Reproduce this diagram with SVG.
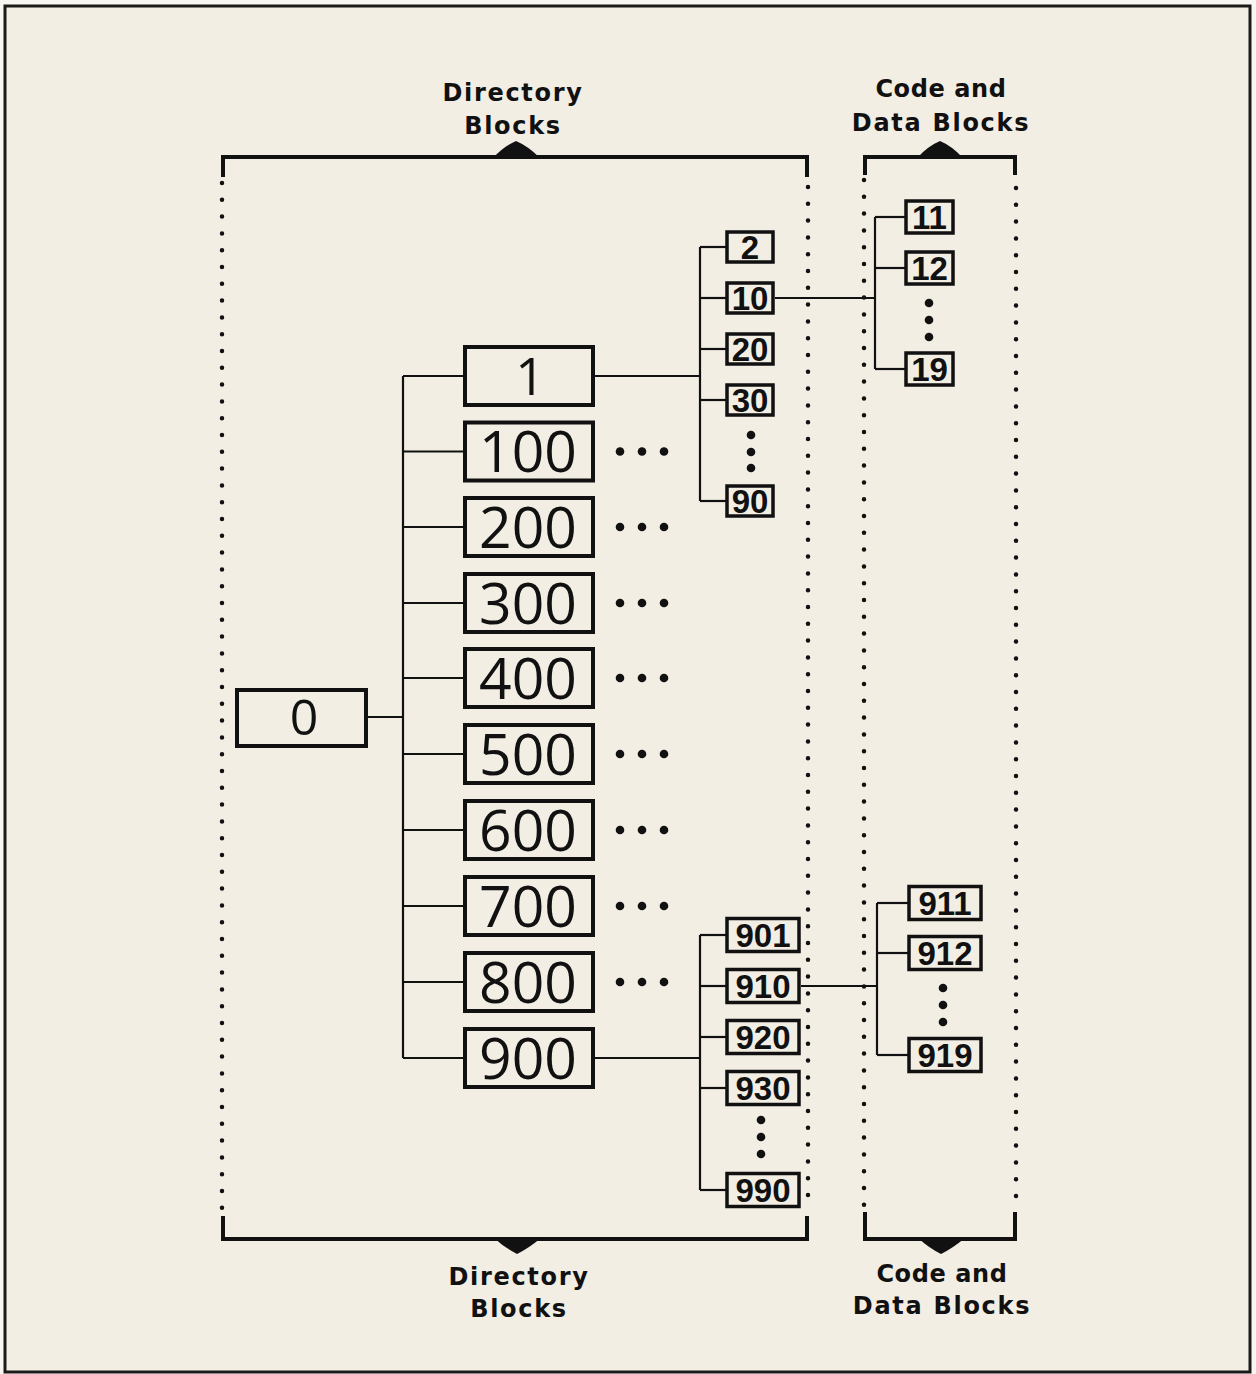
<svg xmlns="http://www.w3.org/2000/svg" width="1256" height="1374" viewBox="0 0 1256 1374">
<style>
.bg{fill:#f3eee4}
.frame{fill:none;stroke:#1a1a1a;stroke-width:3}
.big{fill:none;stroke:#111;stroke-width:4}
.sm{fill:none;stroke:#111;stroke-width:3.5}
.tb{font-family:"Open Sans","Liberation Sans",sans-serif;font-weight:normal;fill:#111;text-anchor:middle}
.ts{font-family:"Liberation Sans",Arial,sans-serif;font-weight:bold;font-size:33px;fill:#111;text-anchor:middle}
.lbl{font-family:"DejaVu Sans","Liberation Sans",sans-serif;font-weight:bold;font-size:24px;fill:#111;text-anchor:middle;letter-spacing:1.7px}
.ln{fill:none;stroke:#111;stroke-width:2.2}
.br{fill:none;stroke:#111;stroke-width:4}
.dotl{fill:none;stroke:#111;stroke-width:4.5;stroke-linecap:round;stroke-dasharray:0 16.8}
.dot{fill:#111}
</style>
<rect width="1256" height="1374" fill="#f8f6f2"/>
<rect class="bg" x="5" y="6" width="1245" height="1366"/>
<rect class="frame" x="5" y="6" width="1245" height="1366"/>

<g id="brackets">
  <path class="br" d="M223 177 V157 H807 V177"/>
  <path d="M493 158 Q504 146 516 141 Q528 146 540 158 Z" fill="#111"/>
  <path class="br" d="M865 175 V157 H1015 V175"/>
  <path d="M917 158 Q928 146 940 141 Q952 146 963 158 Z" fill="#111"/>
  <path class="br" d="M223 1216 V1239 H807 V1216"/>
  <path d="M494 1238 Q505 1248 517 1254 Q529 1248 541 1238 Z" fill="#111"/>
  <path class="br" d="M865 1212 V1239 H1015 V1212"/>
  <path d="M918 1238 Q929 1248 941 1254 Q953 1248 965 1238 Z" fill="#111"/>
  <line class="dotl" x1="222" y1="183" x2="222" y2="1213"/>
  <line class="dotl" x1="808" y1="187" x2="808" y2="1210"/>
  <line class="dotl" x1="864" y1="180" x2="864" y2="1212"/>
  <line class="dotl" x1="1016" y1="188" x2="1016" y2="1210"/>
</g>

<g id="labels">
  <text class="lbl" x="513" y="101">Directory</text>
  <text class="lbl" x="513" y="134">Blocks</text>
  <text class="lbl" x="941" y="97" style="letter-spacing:0.6px">Code and</text>
  <text class="lbl" x="941" y="131">Data Blocks</text>
  <text class="lbl" x="519" y="1285">Directory</text>
  <text class="lbl" x="519" y="1317">Blocks</text>
  <text class="lbl" x="942" y="1282" style="letter-spacing:0.6px">Code and</text>
  <text class="lbl" x="942" y="1314">Data Blocks</text>
</g>

<g id="connectors">
  <line class="ln" x1="368" y1="717" x2="403" y2="717"/>
  <line class="ln" x1="403" y1="376" x2="403" y2="1058"/>
  <line class="ln" x1="403" y1="376" x2="465" y2="376"/>
  <line class="ln" x1="403" y1="451.5" x2="465" y2="451.5"/>
  <line class="ln" x1="403" y1="527" x2="465" y2="527"/>
  <line class="ln" x1="403" y1="603" x2="465" y2="603"/>
  <line class="ln" x1="403" y1="678" x2="465" y2="678"/>
  <line class="ln" x1="403" y1="754" x2="465" y2="754"/>
  <line class="ln" x1="403" y1="830" x2="465" y2="830"/>
  <line class="ln" x1="403" y1="906" x2="465" y2="906"/>
  <line class="ln" x1="403" y1="982" x2="465" y2="982"/>
  <line class="ln" x1="403" y1="1058" x2="465" y2="1058"/>
  <line class="ln" x1="595" y1="376" x2="700" y2="376"/>
  <line class="ln" x1="700" y1="247" x2="700" y2="501"/>
  <line class="ln" x1="700" y1="247" x2="727" y2="247"/>
  <line class="ln" x1="700" y1="298" x2="727" y2="298"/>
  <line class="ln" x1="700" y1="349" x2="727" y2="349"/>
  <line class="ln" x1="700" y1="400" x2="727" y2="400"/>
  <line class="ln" x1="700" y1="501" x2="727" y2="501"/>
  <line class="ln" x1="775" y1="298" x2="875" y2="298"/>
  <line class="ln" x1="875" y1="217" x2="875" y2="369"/>
  <line class="ln" x1="875" y1="217" x2="906" y2="217"/>
  <line class="ln" x1="875" y1="268" x2="906" y2="268"/>
  <line class="ln" x1="875" y1="369" x2="906" y2="369"/>
  <line class="ln" x1="595" y1="1058" x2="700" y2="1058"/>
  <line class="ln" x1="700" y1="935" x2="700" y2="1190"/>
  <line class="ln" x1="700" y1="935" x2="727" y2="935"/>
  <line class="ln" x1="700" y1="986" x2="727" y2="986"/>
  <line class="ln" x1="700" y1="1037" x2="727" y2="1037"/>
  <line class="ln" x1="700" y1="1088" x2="727" y2="1088"/>
  <line class="ln" x1="700" y1="1190" x2="727" y2="1190"/>
  <line class="ln" x1="801" y1="986" x2="877" y2="986"/>
  <line class="ln" x1="877" y1="903" x2="877" y2="1055"/>
  <line class="ln" x1="877" y1="903" x2="909" y2="903"/>
  <line class="ln" x1="877" y1="953" x2="909" y2="953"/>
  <line class="ln" x1="877" y1="1055" x2="909" y2="1055"/>
</g>

<g id="ellipses">
  <g><circle class="dot" cx="620" cy="451.5" r="4.3"/><circle class="dot" cx="642" cy="451.5" r="4.3"/><circle class="dot" cx="664" cy="451.5" r="4.3"/></g>
  <g><circle class="dot" cx="620" cy="527" r="4.3"/><circle class="dot" cx="642" cy="527" r="4.3"/><circle class="dot" cx="664" cy="527" r="4.3"/></g>
  <g><circle class="dot" cx="620" cy="603" r="4.3"/><circle class="dot" cx="642" cy="603" r="4.3"/><circle class="dot" cx="664" cy="603" r="4.3"/></g>
  <g><circle class="dot" cx="620" cy="678" r="4.3"/><circle class="dot" cx="642" cy="678" r="4.3"/><circle class="dot" cx="664" cy="678" r="4.3"/></g>
  <g><circle class="dot" cx="620" cy="754" r="4.3"/><circle class="dot" cx="642" cy="754" r="4.3"/><circle class="dot" cx="664" cy="754" r="4.3"/></g>
  <g><circle class="dot" cx="620" cy="830" r="4.3"/><circle class="dot" cx="642" cy="830" r="4.3"/><circle class="dot" cx="664" cy="830" r="4.3"/></g>
  <g><circle class="dot" cx="620" cy="906" r="4.3"/><circle class="dot" cx="642" cy="906" r="4.3"/><circle class="dot" cx="664" cy="906" r="4.3"/></g>
  <g><circle class="dot" cx="620" cy="982" r="4.3"/><circle class="dot" cx="642" cy="982" r="4.3"/><circle class="dot" cx="664" cy="982" r="4.3"/></g>
  <g><circle class="dot" cx="751" cy="435" r="4.3"/><circle class="dot" cx="751" cy="452" r="4.3"/><circle class="dot" cx="751" cy="468" r="4.3"/></g>
  <g><circle class="dot" cx="929" cy="303" r="4.3"/><circle class="dot" cx="929" cy="320" r="4.3"/><circle class="dot" cx="929" cy="337" r="4.3"/></g>
  <g><circle class="dot" cx="761" cy="1120" r="4.3"/><circle class="dot" cx="761" cy="1137" r="4.3"/><circle class="dot" cx="761" cy="1154" r="4.3"/></g>
  <g><circle class="dot" cx="943" cy="988" r="4.3"/><circle class="dot" cx="943" cy="1005" r="4.3"/><circle class="dot" cx="943" cy="1022" r="4.3"/></g>
</g>

<g id="node-0"><rect class="big" x="237" y="690" width="129" height="56"/><text class="tb" x="304" y="735" font-size="50">0</text></g>
<g id="node-1"><rect class="big" x="465" y="347" width="128" height="58"/><text class="tb" x="530" y="395" font-size="52">1</text></g>
<g id="node-100"><rect class="big" x="465" y="422.5" width="128" height="58"/><text class="tb" x="528" y="472" font-size="57">100</text></g>
<g id="node-200"><rect class="big" x="465" y="498" width="128" height="58"/><text class="tb" x="528" y="548" font-size="57">200</text></g>
<g id="node-300"><rect class="big" x="465" y="574" width="128" height="58"/><text class="tb" x="528" y="624" font-size="57">300</text></g>
<g id="node-400"><rect class="big" x="465" y="649" width="128" height="58"/><text class="tb" x="528" y="699" font-size="57">400</text></g>
<g id="node-500"><rect class="big" x="465" y="725" width="128" height="58"/><text class="tb" x="528" y="775" font-size="57">500</text></g>
<g id="node-600"><rect class="big" x="465" y="801" width="128" height="58"/><text class="tb" x="528" y="851" font-size="57">600</text></g>
<g id="node-700"><rect class="big" x="465" y="877" width="128" height="58"/><text class="tb" x="528" y="927" font-size="57">700</text></g>
<g id="node-800"><rect class="big" x="465" y="953" width="128" height="58"/><text class="tb" x="528" y="1003" font-size="57">800</text></g>
<g id="node-900"><rect class="big" x="465" y="1029" width="128" height="58"/><text class="tb" x="528" y="1079" font-size="57">900</text></g>

<g id="node-2"><rect class="sm" x="727" y="232" width="46" height="30"/><text class="ts" x="750" y="259">2</text></g>
<g id="node-10"><rect class="sm" x="727" y="283" width="46" height="30"/><text class="ts" x="750" y="310">10</text></g>
<g id="node-20"><rect class="sm" x="727" y="334" width="46" height="30"/><text class="ts" x="750" y="361">20</text></g>
<g id="node-30"><rect class="sm" x="727" y="385" width="46" height="30"/><text class="ts" x="750" y="412">30</text></g>
<g id="node-90"><rect class="sm" x="727" y="486" width="46" height="30"/><text class="ts" x="750" y="513">90</text></g>

<g id="node-11"><rect class="sm" x="906" y="201" width="47" height="32"/><text class="ts" x="929.5" y="229">11</text></g>
<g id="node-12"><rect class="sm" x="906" y="252" width="47" height="32"/><text class="ts" x="929.5" y="280">12</text></g>
<g id="node-19"><rect class="sm" x="906" y="353" width="47" height="32"/><text class="ts" x="929.5" y="381">19</text></g>

<g id="node-901"><rect class="sm" x="727" y="918.5" width="72" height="33"/><text class="ts" x="763" y="947">901</text></g>
<g id="node-910"><rect class="sm" x="727" y="969.5" width="72" height="33"/><text class="ts" x="763" y="998">910</text></g>
<g id="node-920"><rect class="sm" x="727" y="1020.5" width="72" height="33"/><text class="ts" x="763" y="1049">920</text></g>
<g id="node-930"><rect class="sm" x="727" y="1071.5" width="72" height="33"/><text class="ts" x="763" y="1100">930</text></g>
<g id="node-990"><rect class="sm" x="727" y="1173.5" width="72" height="33"/><text class="ts" x="763" y="1202">990</text></g>

<g id="node-911"><rect class="sm" x="909" y="886.5" width="72" height="33"/><text class="ts" x="945" y="915">911</text></g>
<g id="node-912"><rect class="sm" x="909" y="936.5" width="72" height="33"/><text class="ts" x="945" y="965">912</text></g>
<g id="node-919"><rect class="sm" x="909" y="1038.5" width="72" height="33"/><text class="ts" x="945" y="1067">919</text></g>
</svg>
